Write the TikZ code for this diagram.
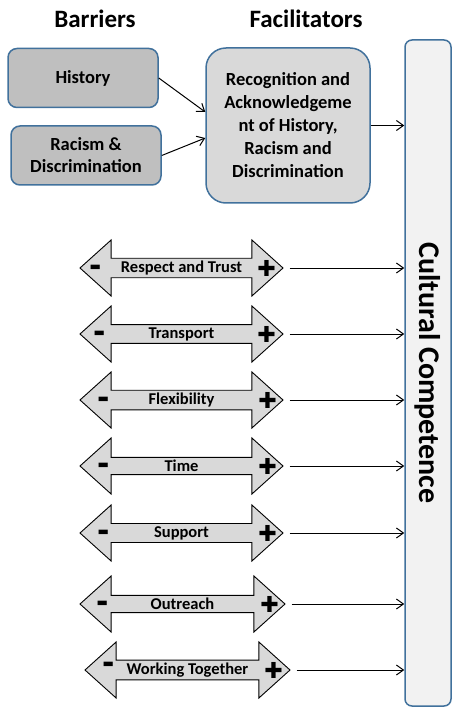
\documentclass[tikz,border=0pt]{standalone}
\usepackage{fontspec}
\setmainfont{Carlito}
\newfontfamily\symfont{DejaVu Sans}
\usetikzlibrary{positioning,calc,arrows,arrows.meta,shapes.arrows}

\definecolor{boxline}{RGB}{65,113,156}
\definecolor{darkfill}{RGB}{191,191,191}
\definecolor{midfill}{RGB}{217,217,217}
\definecolor{palefill}{RGB}{242,242,242}

\begin{document}
\begin{tikzpicture}[x=1pt, y=-1pt,
	every node/.style={align=center, inner sep=1pt, font=\bfseries},
	barrier/.style={draw=boxline, line width=1.5pt, fill=darkfill, rounded corners=9pt,
		minimum width=150pt, minimum height=59pt, font=\bfseries\fontsize{18.5}{22}\selectfont},
	facbox/.style={draw=boxline, line width=1.5pt, fill=midfill, rounded corners=20pt,
		minimum width=164pt, minimum height=155pt, font=\bfseries\fontsize{18.5}{23}\selectfont},
	ccbox/.style={draw=boxline, line width=1.5pt, fill=palefill, rounded corners=7pt,
		minimum width=46pt, minimum height=666pt},
	dbl/.style={double arrow, draw=black, line width=0.9pt, fill=midfill,
		double arrow head extend=14pt, double arrow tip angle=84,
		minimum width=56pt, inner ysep=0pt, font=\bfseries\fontsize{16.5}{18}\selectfont},
	minus/.style={font=\symfont\fontsize{12}{12}\selectfont, inner sep=0pt},
	plus/.style={font=\symfont\fontsize{22}{22}\selectfont, inner sep=0pt},
	link/.style={->, >={Straight Barb[length=7pt, width=10pt]}, line width=1pt}]

	\useasboundingbox (0,0) rectangle (454,708);

	\node (barriers) at (95, 19)  {\fontsize{25}{28}\selectfont Barriers};
	\node (facil)    at (306, 19) {\fontsize{25}{28}\selectfont Facilitators};

	\node[barrier] (hist)   at (83, 78)     {History};
	\node[barrier] (racism) at (86, 155.5)  {Racism \&\\Discrimination};
	\node[facbox]  (recog)  at (288, 125.5) {Recognition and\\Acknowledgeme\\nt of History,\\Racism and\\Discrimination};

	\node[ccbox] (cc) at (428, 373) {};
	\node[rotate=-90] (cctext) at (cc) {\fontsize{30}{34}\selectfont Cultural Competence};

	\draw[link] (hist.east) -- ([yshift=13.5pt]recog.west);
	\draw[link] (racism.east) -- ([yshift=-12.5pt]recog.west);
	\draw[link] (recog.east) -- (recog.east -| cc.west);

	% the seven sliding scales
	\node[dbl, minimum height=203pt] (resp)  at (181.5, 268) {Respect and Trust};
	\node[dbl, minimum height=203pt] (trans) at (181.5, 334) {Transport};
	\node[dbl, minimum height=203pt] (flex)  at (181.5, 400) {Flexibility};
	\node[dbl, minimum height=203pt] (time)  at (181.5, 466) {Time};
	\node[dbl, minimum height=203pt] (supp)  at (181.5, 533) {Support};
	\node[dbl, minimum height=205pt] (outr)  at (182.5, 604) {Outreach};
	\node[dbl, minimum height=205pt] (work)  at (187.5, 670) {Working Together};

	\node[minus] (resp-)  at ([xshift=16pt]resp.west)  {▬};
	\node[minus] (trans-) at ([xshift=20pt]trans.west) {▬};
	\node[minus] (flex-)  at ([xshift=24pt]flex.west)  {▬};
	\node[minus] (time-)  at ([xshift=24pt]time.west)  {▬};
	\node[minus] (supp-)  at ([xshift=24pt]supp.west)  {▬};
	\node[minus] (outr-)  at ([xshift=23pt]outr.west)  {▬};
	\node[minus] (work-)  at ([xshift=24pt, yshift=5pt]work.west) {▬};

	\node[plus] (resp+)  at ([xshift=-17pt]resp.east)  {✚};
	\node[plus] (trans+) at ([xshift=-17pt]trans.east) {✚};
	\node[plus] (flex+)  at ([xshift=-16pt]flex.east)  {✚};
	\node[plus] (time+)  at ([xshift=-16pt]time.east)  {✚};
	\node[plus] (supp+)  at ([xshift=-16pt]supp.east)  {✚};
	\node[plus] (outr+)  at ([xshift=-16pt]outr.east)  {✚};
	\node[plus] (work+)  at ([xshift=-17pt]work.east)  {✚};

	\draw[link, shorten <=6pt] (resp.east)  -- (resp.east -| cc.west);
	\draw[link, shorten <=6pt] (trans.east) -- (trans.east -| cc.west);
	\draw[link, shorten <=6pt] (flex.east)  -- (flex.east -| cc.west);
	\draw[link, shorten <=6pt] (time.east)  -- (time.east -| cc.west);
	\draw[link, shorten <=6pt] (supp.east)  -- (supp.east -| cc.west);
	\draw[link, shorten <=6pt] (outr.east)  -- (outr.east -| cc.west);
	\draw[link, shorten <=6pt] (work.east)  -- (work.east -| cc.west);
\end{tikzpicture}
\end{document}
